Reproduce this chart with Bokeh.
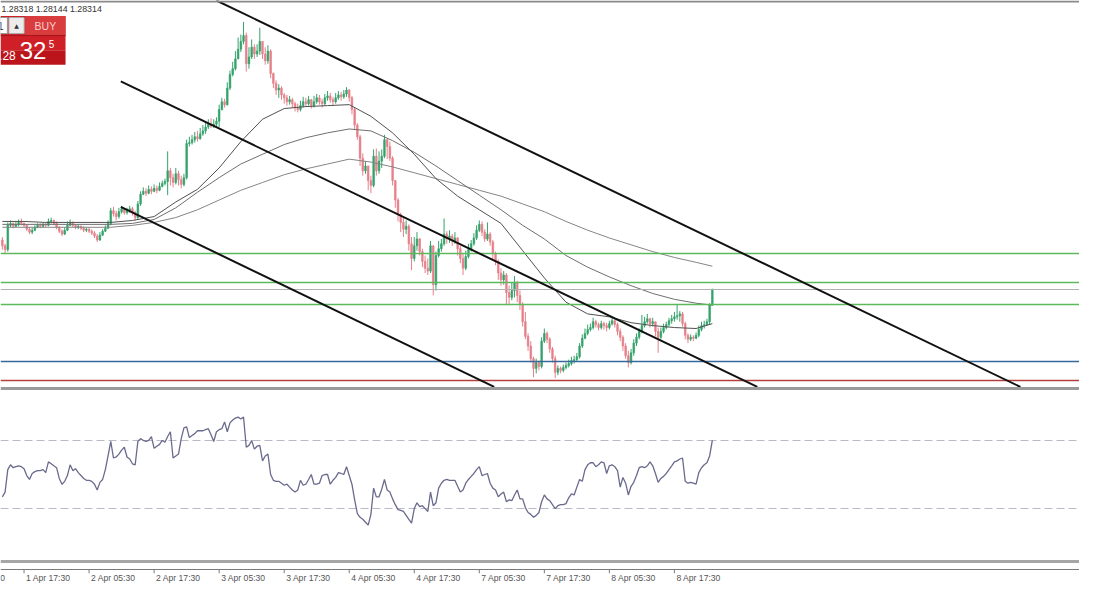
from bokeh.plotting import figure
from bokeh.models import Range1d, ColumnDataSource
from bokeh.embed import file_html
from bokeh.resources import INLINE
from bokeh.core.properties import value

# ---------------- data ----------------
bar_index = list(range(-8, 255))          # M30 bars, 0 = 1 Apr 17:30
first_open = 1.2882

closes = [
    1.2876, 1.2872, 1.2897, 1.2899, 1.2896, 1.2898, 1.2900, 1.2899,
    1.2897, 1.2893, 1.2890, 1.2892, 1.2895, 1.2897, 1.2896, 1.2898, 1.2897, 1.2901,
    1.2902, 1.2899, 1.2895, 1.2891, 1.2888, 1.2892, 1.2897, 1.2900, 1.2897, 1.2895,
    1.2896, 1.2894, 1.2892, 1.2893, 1.2891, 1.2889, 1.2886, 1.2882, 1.2887, 1.2891,
    1.2894, 1.2899, 1.2912, 1.2909, 1.2906, 1.2911, 1.2914, 1.2910, 1.2912, 1.2914,
    1.2910, 1.2905, 1.2919, 1.2929, 1.2932, 1.2930, 1.2934, 1.2932, 1.2935, 1.2933,
    1.2937, 1.2940, 1.2942, 1.2953, 1.2946, 1.2941, 1.2950, 1.2944, 1.2939, 1.2946,
    1.2981, 1.2982, 1.2985, 1.2988, 1.2986, 1.2991, 1.2994, 1.2998, 1.3001, 1.2999,
    1.3001, 1.3004, 1.3016, 1.3024, 1.3021, 1.3038, 1.3052, 1.3058, 1.3068, 1.3078,
    1.3086, 1.3092, 1.3063, 1.3070, 1.3080, 1.3073, 1.3076, 1.3086, 1.3073, 1.3066,
    1.3076, 1.3053, 1.3043, 1.3036, 1.3038, 1.3031, 1.3028, 1.3024, 1.3026, 1.3022,
    1.3018, 1.3016, 1.3020, 1.3024, 1.3022, 1.3026, 1.3020, 1.3024, 1.3028, 1.3024,
    1.3022, 1.3028, 1.3030, 1.3026, 1.3024, 1.3028, 1.3031, 1.3029, 1.3032, 1.3036,
    1.3028, 1.3016, 1.3000, 1.2988, 1.2966, 1.2953, 1.2958, 1.2943, 1.2938, 1.2968,
    1.2953, 1.2963, 1.2968, 1.2985, 1.2978, 1.2966, 1.2943, 1.2923, 1.2908, 1.2900,
    1.2893, 1.2896, 1.2878, 1.2863, 1.2876, 1.2883, 1.2870, 1.2860, 1.2853, 1.2850,
    1.2876, 1.2836, 1.2866, 1.2873, 1.2878, 1.2888, 1.2883, 1.2886, 1.2881, 1.2884,
    1.2873, 1.2863, 1.2853, 1.2865, 1.2872, 1.2878, 1.2884, 1.2892, 1.2898, 1.2890,
    1.2883, 1.2888, 1.2880, 1.2868, 1.2860, 1.2848, 1.2841, 1.2846, 1.2828, 1.2823,
    1.2830, 1.2838, 1.2825, 1.2816, 1.2798, 1.2783, 1.2773, 1.2760, 1.2750, 1.2756,
    1.2752, 1.2778, 1.2786, 1.2780, 1.2770, 1.2760, 1.2746, 1.2750, 1.2748, 1.2751,
    1.2753, 1.2755, 1.2758, 1.2759, 1.2762, 1.2773, 1.2781, 1.2786, 1.2790, 1.2792,
    1.2798, 1.2795, 1.2792, 1.2796, 1.2794, 1.2792, 1.2796, 1.2799, 1.2795, 1.2788,
    1.2782, 1.2773, 1.2763, 1.2756, 1.2766, 1.2776, 1.2782, 1.2788, 1.2794, 1.2798,
    1.2801, 1.2796, 1.2798, 1.2788, 1.2782, 1.2788, 1.2792, 1.2795, 1.2799, 1.2801,
    1.2803, 1.2804, 1.2806, 1.2796, 1.2784, 1.2780, 1.2782, 1.2781, 1.2784, 1.2790,
    1.2794, 1.2795, 1.2798, 1.2815, 1.28314,
]

highs = [
    1.2885, 1.2878, 1.2900, 1.2902, 1.2900, 1.2901, 1.2903, 1.2904,
    1.2900, 1.2898, 1.2895, 1.2895, 1.2897, 1.2899, 1.2899, 1.2900, 1.2900, 1.2904,
    1.2905, 1.2903, 1.2901, 1.2896, 1.2893, 1.2895, 1.2901, 1.2903, 1.2901, 1.2898,
    1.2898, 1.2897, 1.2896, 1.2895, 1.2895, 1.2893, 1.2891, 1.2888, 1.2890, 1.2893,
    1.2897, 1.2902, 1.2915, 1.2916, 1.2912, 1.2915, 1.2917, 1.2915, 1.2915, 1.2917,
    1.2916, 1.2912, 1.2922, 1.2932, 1.2936, 1.2935, 1.2938, 1.2937, 1.2939, 1.2938,
    1.2941, 1.2943, 1.2945, 1.2973, 1.2956, 1.2950, 1.2956, 1.2953, 1.2948, 1.2950,
    1.2985, 1.2988, 1.2990, 1.2993, 1.2994, 1.2997, 1.3000, 1.3003, 1.3006, 1.3007,
    1.3006, 1.3008, 1.3021, 1.3028, 1.3027, 1.3044, 1.3056, 1.3065, 1.3076, 1.3090,
    1.3093, 1.3106, 1.3095, 1.3080, 1.3088, 1.3083, 1.3083, 1.3100, 1.3086, 1.3080,
    1.3082, 1.3078, 1.3054, 1.3046, 1.3042, 1.3040, 1.3033, 1.3031, 1.3030, 1.3028,
    1.3024, 1.3022, 1.3025, 1.3029, 1.3028, 1.3030, 1.3027, 1.3030, 1.3032, 1.3031,
    1.3027, 1.3032, 1.3035, 1.3033, 1.3029, 1.3033, 1.3035, 1.3034, 1.3036, 1.3039,
    1.3037, 1.3030, 1.3018, 1.3002, 1.2990, 1.2971, 1.2963, 1.2958, 1.2948, 1.2975,
    1.2976, 1.2973, 1.2975, 1.2990, 1.2986, 1.2983, 1.2968, 1.2943, 1.2925, 1.2910,
    1.2906, 1.2902, 1.2898, 1.2885, 1.2885, 1.2890, 1.2884, 1.2873, 1.2866, 1.2863,
    1.2881, 1.2876, 1.2870, 1.2881, 1.2883, 1.2904, 1.2891, 1.2892, 1.2888, 1.2890,
    1.2885, 1.2876, 1.2868, 1.2871, 1.2878, 1.2882, 1.2889, 1.2897, 1.2902, 1.2901,
    1.2893, 1.2900, 1.2890, 1.2882, 1.2870, 1.2862, 1.2853, 1.2850, 1.2848, 1.2835,
    1.2838, 1.2845, 1.2840, 1.2830, 1.2818, 1.2808, 1.2786, 1.2778, 1.2762, 1.2760,
    1.2758, 1.2782, 1.2791, 1.2788, 1.2782, 1.2772, 1.2763, 1.2753, 1.2752, 1.2754,
    1.2756, 1.2759, 1.2762, 1.2763, 1.2766, 1.2776, 1.2785, 1.2791, 1.2795, 1.2796,
    1.2802, 1.2800, 1.2797, 1.2799, 1.2798, 1.2797, 1.2799, 1.2803, 1.2801, 1.2797,
    1.2791, 1.2784, 1.2776, 1.2768, 1.2770, 1.2780, 1.2786, 1.2791, 1.2805, 1.2803,
    1.2806, 1.2802, 1.2802, 1.2798, 1.2792, 1.2792, 1.2796, 1.2798, 1.2802, 1.2805,
    1.2808, 1.2816, 1.2809, 1.2808, 1.2798, 1.2786, 1.2785, 1.2784, 1.2787, 1.2794,
    1.2798, 1.2799, 1.2801, 1.2817, 1.28318,
]

lows = [
    1.2872, 1.2868, 1.2870, 1.2895, 1.2894, 1.2895, 1.2896, 1.2897,
    1.2895, 1.2891, 1.2888, 1.2888, 1.2891, 1.2894, 1.2894, 1.2895, 1.2895, 1.2896,
    1.2899, 1.2897, 1.2893, 1.2889, 1.2886, 1.2887, 1.2891, 1.2896, 1.2895, 1.2893,
    1.2893, 1.2892, 1.2890, 1.2890, 1.2889, 1.2887, 1.2884, 1.2880, 1.2881, 1.2886,
    1.2890, 1.2893, 1.2897, 1.2906, 1.2902, 1.2904, 1.2909, 1.2908, 1.2908, 1.2910,
    1.2907, 1.2902, 1.2903, 1.2917, 1.2928, 1.2927, 1.2929, 1.2929, 1.2931, 1.2930,
    1.2932, 1.2936, 1.2938, 1.2928, 1.2938, 1.2936, 1.2939, 1.2938, 1.2935, 1.2937,
    1.2944, 1.2978, 1.2980, 1.2982, 1.2983, 1.2985, 1.2989, 1.2991, 1.2996, 1.2997,
    1.2997, 1.2998, 1.2998, 1.3015, 1.3018, 1.3020, 1.3036, 1.3050, 1.3056, 1.3068,
    1.3075, 1.3083, 1.3055, 1.3058, 1.3068, 1.3068, 1.3070, 1.3072, 1.3068, 1.3062,
    1.3063, 1.3048, 1.3038, 1.3031, 1.3028, 1.3026, 1.3022, 1.3020, 1.3021, 1.3018,
    1.3014, 1.3013, 1.3014, 1.3018, 1.3019, 1.3020, 1.3017, 1.3018, 1.3022, 1.3021,
    1.3018, 1.3020, 1.3025, 1.3023, 1.3020, 1.3022, 1.3026, 1.3025, 1.3027, 1.3029,
    1.3024, 1.3011, 1.2995, 1.2985, 1.2958, 1.2948, 1.2950, 1.2933, 1.2930, 1.2936,
    1.2948, 1.2950, 1.2956, 1.2966, 1.2965, 1.2963, 1.2938, 1.2915, 1.2901, 1.2890,
    1.2885, 1.2888, 1.2871, 1.2851, 1.2860, 1.2871, 1.2866, 1.2854, 1.2848, 1.2846,
    1.2848, 1.2825, 1.2830, 1.2864, 1.2870, 1.2876, 1.2878, 1.2879, 1.2876, 1.2878,
    1.2866, 1.2858, 1.2846, 1.2851, 1.2863, 1.2870, 1.2876, 1.2882, 1.2890, 1.2886,
    1.2880, 1.2881, 1.2876, 1.2862, 1.2856, 1.2841, 1.2835, 1.2836, 1.2815, 1.2816,
    1.2820, 1.2823, 1.2818, 1.2810, 1.2793, 1.2780, 1.2768, 1.2756, 1.2741, 1.2745,
    1.2748, 1.2750, 1.2776, 1.2776, 1.2766, 1.2756, 1.2740, 1.2743, 1.2745, 1.2746,
    1.2749, 1.2751, 1.2753, 1.2755, 1.2757, 1.2760, 1.2771, 1.2780, 1.2784, 1.2788,
    1.2790, 1.2792, 1.2789, 1.2790, 1.2790, 1.2788, 1.2790, 1.2794, 1.2792, 1.2784,
    1.2778, 1.2768, 1.2760, 1.2751, 1.2754, 1.2763, 1.2773, 1.2780, 1.2786, 1.2792,
    1.2796, 1.2792, 1.2793, 1.2783, 1.2766, 1.2780, 1.2786, 1.2790, 1.2793, 1.2796,
    1.2798, 1.2800, 1.2798, 1.2793, 1.2780, 1.2776, 1.2778, 1.2778, 1.2780, 1.2782,
    1.2788, 1.2791, 1.2794, 1.2795, 1.28144,
]

rsi14 = [
    36.9, 39.7, 52.9, 55.7, 54.0, 54.6, 55.1, 54.6,
    53.4, 49.4, 47.1, 50.6, 51.7, 52.3, 52.3, 52.9, 51.1, 57.4,
    56.3, 55.1, 54.0, 47.7, 44.3, 46.0, 49.4, 55.7, 52.3, 53.4,
    51.1, 49.4, 47.7, 46.6, 46.6, 46.0, 44.3, 40.9, 45.4, 47.1,
    52.9, 60.9, 69.4, 59.7, 60.3, 62.0, 64.3, 66.0, 60.3, 59.1,
    56.3, 55.7, 69.4, 71.1, 70.0, 69.4, 70.0, 72.3, 65.4, 66.6,
    67.7, 70.0, 68.9, 72.3, 75.1, 59.7, 60.9, 62.0, 71.1, 77.4,
    78.0, 71.7, 72.9, 74.0, 75.7, 75.7, 75.7, 76.3, 76.9, 73.4,
    69.4, 75.1, 76.3, 76.9, 80.9, 75.1, 80.3, 82.0, 83.1, 83.7,
    82.6, 83.7, 66.0, 67.1, 70.0, 64.9, 66.6, 67.1, 58.0, 60.9,
    62.0, 50.0, 46.6, 46.0, 46.0, 44.9, 43.7, 44.3, 42.6, 40.9,
    39.7, 40.9, 46.6, 43.7, 44.3, 47.1, 50.0, 44.3, 44.3, 44.9,
    49.4, 50.0, 50.0, 44.3, 46.6, 48.3, 51.1, 50.6, 50.0, 54.6,
    49.4, 44.3, 35.1, 27.1, 24.9, 23.7, 22.0, 20.3, 26.6, 42.0,
    36.9, 36.9, 41.4, 47.1, 40.9, 39.7, 35.7, 32.3, 29.4, 28.9,
    28.3, 26.0, 23.7, 21.4, 30.0, 33.4, 31.1, 31.7, 30.0, 28.3,
    39.7, 31.7, 33.4, 42.0, 44.9, 46.6, 47.1, 46.6, 46.6, 46.6,
    43.1, 39.7, 40.9, 44.9, 47.1, 48.9, 50.6, 52.9, 54.6, 49.4,
    50.0, 50.6, 44.9, 42.0, 40.9, 36.9, 38.6, 39.7, 34.0, 35.1,
    34.6, 38.0, 40.9, 35.7, 35.7, 30.6, 27.7, 26.6, 24.9, 26.0,
    27.7, 34.0, 38.0, 35.7, 34.6, 32.3, 30.0, 31.7, 32.3, 32.3,
    32.9, 36.3, 38.6, 38.0, 42.6, 47.1, 46.0, 52.9, 55.7, 56.9,
    56.9, 54.6, 55.7, 57.4, 56.9, 50.6, 55.1, 55.7, 54.6, 52.3,
    42.6, 48.3, 44.9, 38.0, 43.1, 45.4, 49.4, 54.0, 54.6, 54.0,
    55.1, 57.4, 55.1, 50.6, 45.4, 47.7, 48.9, 50.6, 52.9, 55.1,
    57.4, 58.0, 59.1, 59.7, 46.0, 44.9, 45.4, 44.9, 44.3, 51.1,
    54.0, 55.7, 56.9, 60.9, 70.0,
]
rsi_levels = [70, 30]

ma_index = [-8, 0, 8, 16, 24, 32, 40, 48, 56, 64, 72, 80, 88, 96, 104, 112, 120,
            128, 136, 144, 152, 160, 168, 176, 184, 192, 200, 208, 216, 224, 232,
            240, 248, 254]
ma_fast = [1.2901, 1.2901, 1.2900, 1.2900, 1.2900, 1.2900, 1.2902, 1.2906, 1.2921,
           1.2934, 1.2956, 1.2983, 1.3006, 1.3017, 1.3019, 1.3020, 1.3021, 1.3009,
           1.2992, 1.2970, 1.2945, 1.2927, 1.2913, 1.2899, 1.2871, 1.2843, 1.2818,
           1.2806, 1.2803, 1.2797, 1.2794, 1.2792, 1.2791, 1.2796]
ma_mid = [1.2898, 1.2898, 1.2898, 1.2898, 1.2898, 1.2898, 1.2899, 1.2903, 1.2915,
          1.2931, 1.2946, 1.2960, 1.2970, 1.2980, 1.2987, 1.2992, 1.2996, 1.2994,
          1.2984, 1.2972, 1.2958, 1.2943, 1.2928, 1.2913, 1.2897, 1.2883, 1.2866,
          1.2854, 1.2844, 1.2835, 1.2827, 1.2821, 1.2817, 1.2815]
ma_slow = [1.2895, 1.2895, 1.2895, 1.2895, 1.2895, 1.2895, 1.2897, 1.2900, 1.2905,
           1.2913, 1.2923, 1.2933, 1.2941, 1.2949, 1.2955, 1.2960, 1.2965, 1.2962,
           1.2957, 1.2951, 1.2945, 1.2939, 1.2933, 1.2927, 1.2919, 1.2911, 1.2901,
           1.2892, 1.2884, 1.2877, 1.2870, 1.2864, 1.2859, 1.2855]

# horizontal levels (price) and their colours
level_prices = [1.2868, 1.2838, 1.2816, 1.28314, 1.2757, 1.2738]
level_colors = ["#5cb85c", "#5cb85c", "#5cb85c", "#b0b0b0", "#35699a", "#b3403f"]
level_widths = [1.3, 1.3, 1.3, 1.0, 1.7, 1.4]

# channel trend lines: (bar index, price) anchor pairs
trend_x0 = [71.0, 35.7, 35.7]
trend_p0 = [1.3128, 1.3045, 1.2916]
trend_x1 = [367.7, 270.6, 173.5]
trend_p1 = [1.2731, 1.2731, 1.2731]

tick_index = [-24, 0, 24, 48, 72, 96, 120, 144, 168, 192, 216, 240]
tick_labels = ["1 Apr 05:30", "1 Apr 17:30", "2 Apr 05:30", "2 Apr 17:30",
               "3 Apr 05:30", "3 Apr 17:30", "4 Apr 05:30", "4 Apr 17:30",
               "7 Apr 05:30", "7 Apr 17:30", "8 Apr 05:30", "8 Apr 17:30"]
ask_big, ask_small, ask_pip = "32", "1.28", "5"

n = len(bar_index)
assert len(closes) == n and len(highs) == n and len(lows) == n and len(rsi14) == n
assert len(ma_fast) == len(ma_index) == len(ma_mid) == len(ma_slow)

# ---------------- layout constants ----------------
W, H = 1079, 584
REF_W, REF_H = 1095, 600
BAR0_PX, BAR_PX = 23.9, 2.75
PRICE_TOP, PIP_PER_PX = 1.3128, 0.0001
BULL, BEAR = "#35a26c", "#e6808a"

x_range = Range1d((0 - BAR0_PX) / BAR_PX, (REF_W - BAR0_PX) / BAR_PX)
y_range = Range1d(PRICE_TOP - REF_H * PIP_PER_PX, PRICE_TOP)

p = figure(width=W, height=H, output_backend="svg", toolbar_location=None, tools="",
           x_range=x_range, y_range=y_range, x_axis_location=None,
           y_axis_location=None, min_border=0)
p.extra_y_ranges = {"rsi": Range1d(70 - (REF_H - 452) / 1.75, 70 + 452 / 1.75),
                    "ui": Range1d(REF_H, 0)}
p.extra_x_ranges = {"uix": Range1d(0, REF_W)}
p.grid.visible = False
p.outline_line_color = None
p.background_fill_color = "white"
p.border_fill_color = "white"

opens = [first_open] + closes[:-1]
src = ColumnDataSource(dict(
    x=bar_index, h=highs, l=lows,
    top=[max(o, c) for o, c in zip(opens, closes)],
    bot=[min(o, c) for o, c in zip(opens, closes)],
    col=[BULL if c >= o else BEAR for o, c in zip(opens, closes)],
))
p.segment(x0="x", y0="h", x1="x", y1="l", line_color="col", line_width=1, source=src)
p.vbar(x="x", width=0.62, top="top", bottom="bot", fill_color="col",
       line_color="col", line_width=0.6, source=src)

# moving averages
p.line(ma_index, ma_slow, line_color="#858585", line_width=1)
p.line(ma_index, ma_mid, line_color="#6f6f6f", line_width=1)
p.line(ma_index, ma_fast, line_color="#505050", line_width=1)

# horizontal levels
for lp, lc, lw in zip(level_prices, level_colors, level_widths):
    p.hspan(y=[lp], line_color=lc, line_width=lw)

# channel lines
p.segment(x0=trend_x0, y0=trend_p0, x1=trend_x1, y1=trend_p1,
          line_color="#111111", line_width=2)

# RSI panel
p.hspan(y=rsi_levels, y_range_name="rsi", line_color="#b9b9c8",
        line_width=1, line_dash="8 4")
p.line(bar_index, rsi14, y_range_name="rsi", line_color="#6a6a8c", line_width=1.3)

# panel separators and time axis
p.hspan(y=[1], y_range_name="ui", line_color="#8a8a8a", line_width=2)
p.hspan(y=[399], y_range_name="ui", line_color="#9a9a9a", line_width=3)
p.hspan(y=[576], y_range_name="ui", line_color="#a6a6a6", line_width=3)
p.hspan(y=[584.5], y_range_name="ui", line_color="#7a7a7a", line_width=1)
p.segment(x0=tick_index, y0=[584.5] * len(tick_index), x1=tick_index,
          y1=[588.5] * len(tick_index), y_range_name="ui", line_color="#7a7a7a")
p.text(x=tick_index, y=[593] * len(tick_index), text=tick_labels, y_range_name="ui",
       x_offset=2, text_align="left", text_baseline="middle",
       text_font=value("Liberation Sans"), text_font_size="8.6px", text_color="#555555")

# header with last bar's high / low / close
header = f"{highs[-1]:.5f} {lows[-1]:.5f} {closes[-1]:.5f}"
p.text(x=[1], y=[8.5], text=[header], x_range_name="uix", y_range_name="ui",
       text_align="left", text_baseline="middle", text_font=value("Liberation Sans"),
       text_font_size="8.8px", text_color="#333333")

# one-click trading widget
ui = dict(x_range_name="uix", y_range_name="ui")
p.quad(left=[0], right=[66], top=[16], bottom=[51], fill_color="#cf1f27", line_color=None, **ui)
p.quad(left=[0], right=[66], top=[51], bottom=[66], fill_color="#bb141b", line_color=None, **ui)
p.quad(left=[25], right=[66], top=[16], bottom=[36], fill_color="#d83c3d", line_color=None, **ui)
p.segment(x0=[0], y0=[36], x1=[66], y1=[36], line_color="#a3161b", line_width=1, **ui)
p.quad(left=[-2], right=[7], top=[17.5], bottom=[34], fill_color="white",
       line_color="#9a9a9a", line_width=1, **ui)
p.quad(left=[8.5], right=[24], top=[17.5], bottom=[34], fill_color="#ececec",
       line_color="#ababab", line_width=1, **ui)
p.text(x=[3.2], y=[26], text=["1"], text_align="right", text_baseline="middle",
       text_font=value("Liberation Sans"), text_font_size="11px", text_color="#222222", **ui)
p.text(x=[16.2], y=[25.5], text=["\u25b2"], text_align="center", text_baseline="middle",
       text_font=value("DejaVu Sans"), text_font_size="6px", text_color="#333333", **ui)
p.text(x=[45.5], y=[26.5], text=["BUY"], text_align="center", text_baseline="middle",
       text_font=value("Liberation Sans"), text_font_size="10.5px", text_color="#f8cfcf", **ui)
p.text(x=[15.5], y=[57], text=[ask_small], text_align="right", text_baseline="middle",
       text_font=value("Liberation Sans"), text_font_size="12px", text_color="white", **ui)
p.text(x=[19.5], y=[51.5], text=[ask_big], text_align="left", text_baseline="middle",
       text_font=value("Liberation Sans"), text_font_size="24px", text_color="white", **ui)
p.text(x=[49], y=[45], text=[ask_pip], text_align="left", text_baseline="middle",
       text_font=value("Liberation Sans"), text_font_size="10px", text_color="white", **ui)

open("out.html", "w").write(file_html(p, INLINE))
